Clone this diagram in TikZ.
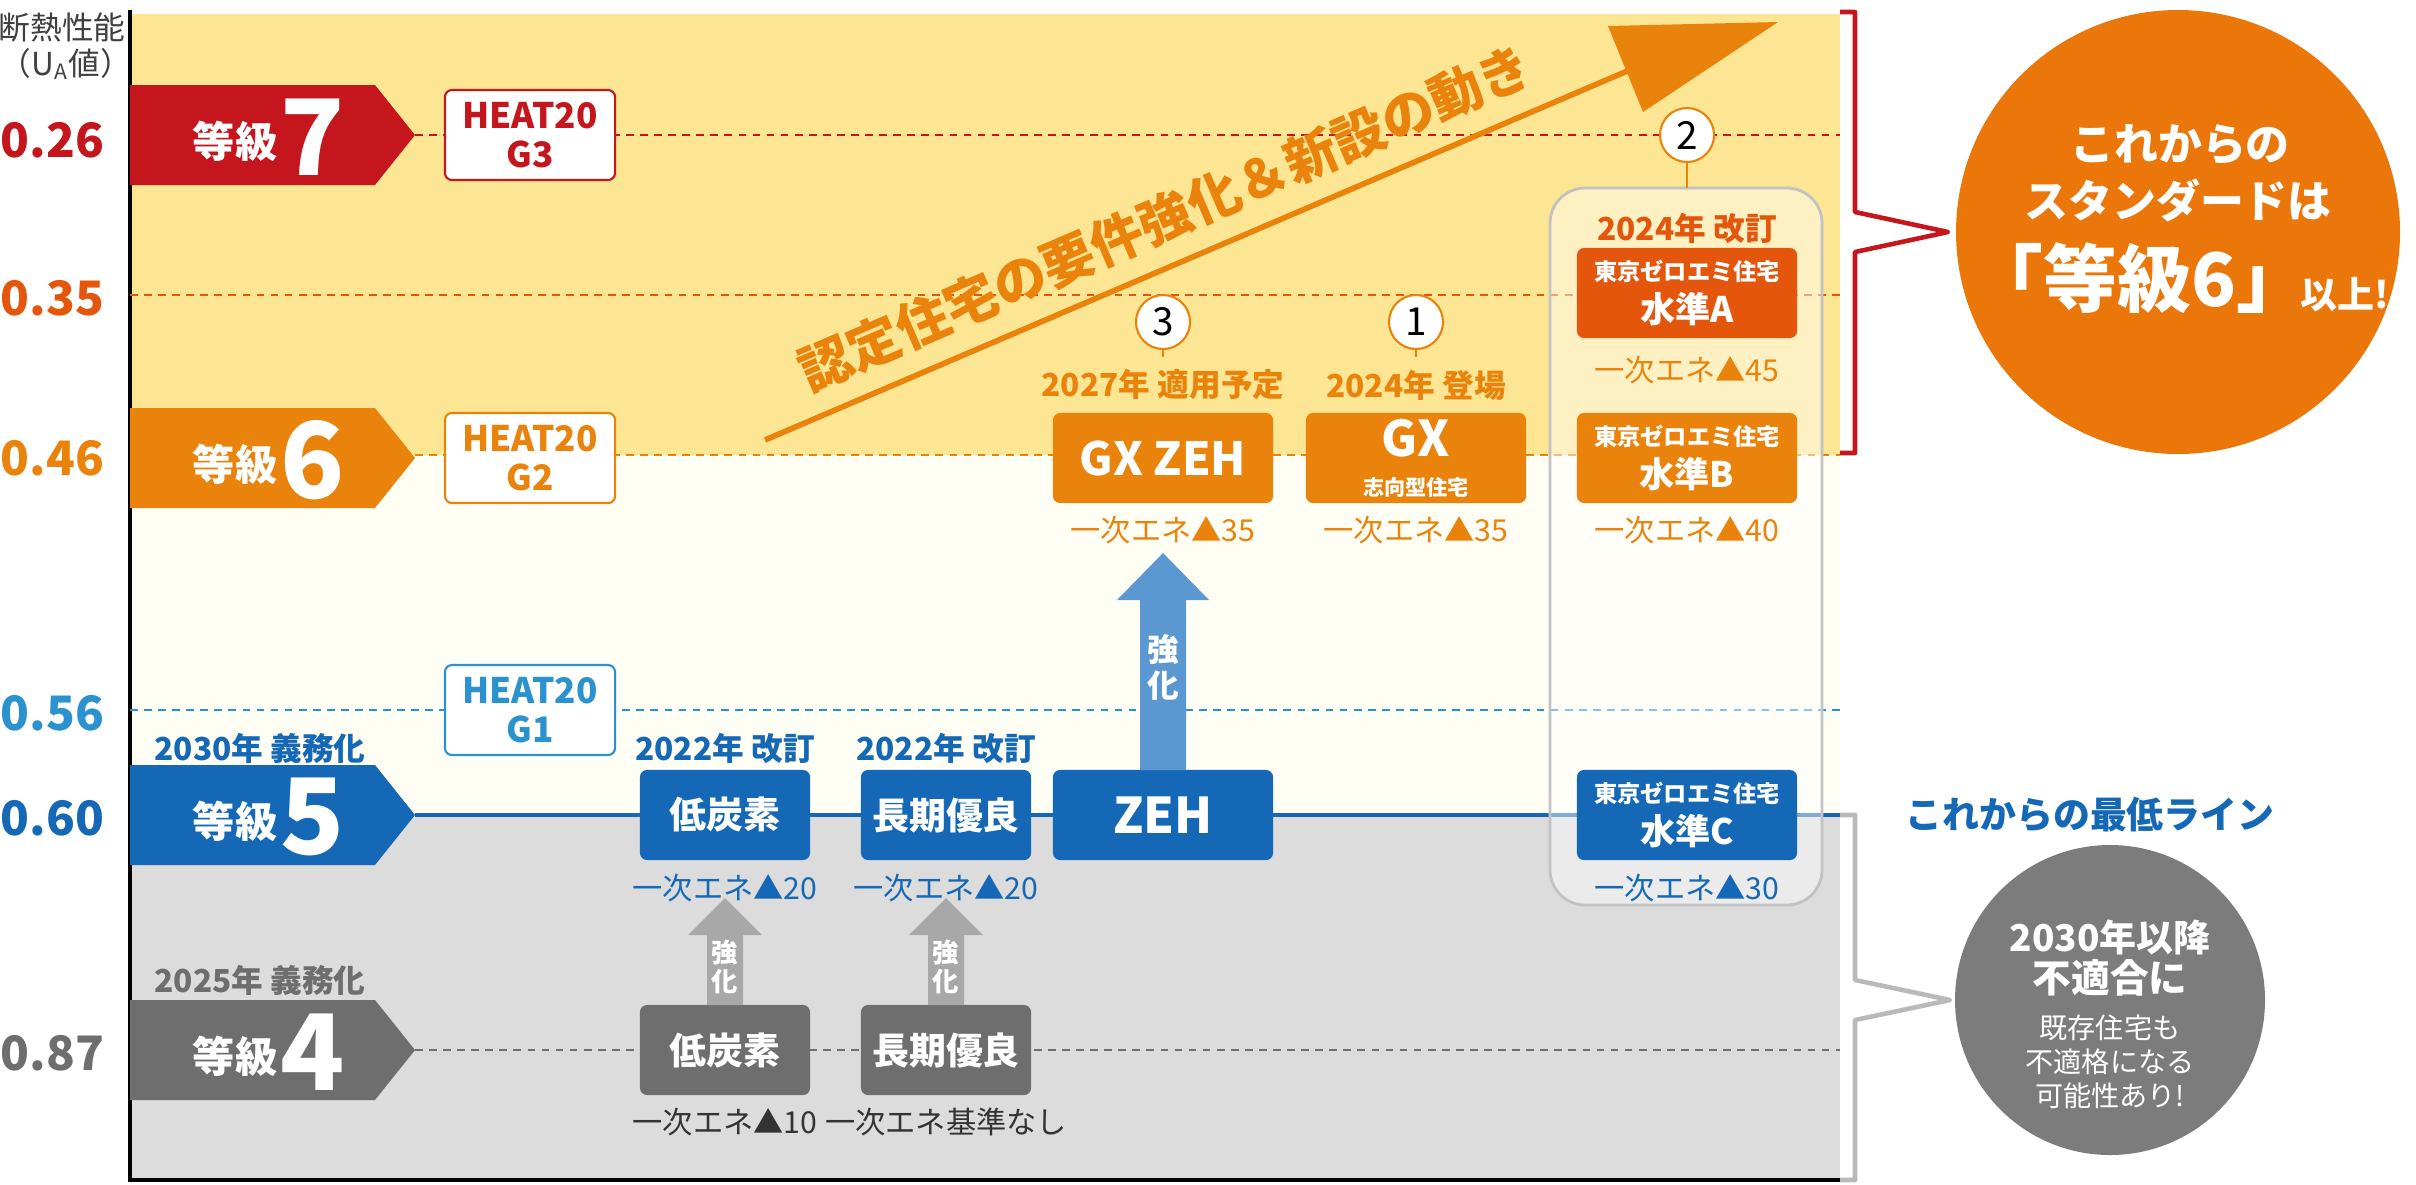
\documentclass[tikz,border=0pt]{standalone}
\usepackage{fontspec}
\setmainfont{Noto Sans CJK JP}
\usetikzlibrary{arrows.meta}
\definecolor{cred}{HTML}{C4161C}
\definecolor{corg}{HTML}{EA830B}
\definecolor{cdorg}{HTML}{E5560D}
\definecolor{cblue}{HTML}{1468B6}
\definecolor{clblue}{HTML}{2A93CF}
\definecolor{cablue}{HTML}{5B98D1}
\definecolor{cgray}{HTML}{6E6E6E}
\definecolor{cagray}{HTML}{A8A8A8}
\definecolor{cyel}{HTML}{FCE593}
\definecolor{cbg}{HTML}{DCDCDC}
\definecolor{cbig}{HTML}{EB760A}
\tikzset{
  fs/.style={font=\fontsize{#1}{#1}\selectfont\bfseries},
  fr/.style={font=\fontsize{#1}{#1}\selectfont},
  dline/.style={line width=0.6pt, dash pattern=on 2.2pt off 1.8pt},
  box/.style={rounded corners=2pt, minimum width=2.2cm, minimum height=0.9cm, text=white, align=center, inner sep=0pt},
  hbox/.style={draw, line width=0.6pt, fill=white, rounded corners=2pt, minimum width=1.7cm, minimum height=0.9cm, align=center, inner sep=0pt, font=\fontsize{10}{11}\selectfont\bfseries},
  num/.style={circle, draw=corg, fill=white, line width=0.6pt, minimum size=0.54cm, inner sep=0pt, font=\fontsize{11}{11}\selectfont},
  lab/.style={fs=9},
  ene/.style={fr=8.6},
}
\begin{document}
\begin{tikzpicture}[x=0.01cm,y=-0.01cm]
\useasboundingbox (0,0) rectangle (2416,1184);
% backgrounds
\fill[cyel] (130,14) rectangle (1840,455);
\fill[white!96!yellow] (130,455) rectangle (1840,815);
\fill[cbg] (130,815) rectangle (1840,1180);
\draw[line width=1pt] (130,10) -- (130,1180) -- (1840,1180);
% axis title
\node[fr=9, text=black!75] (t1) at (62,28) {断熱性能};
\node[fr=9, text=black!75] (t2) at (66,64) {（U\textsubscript{A}値）};
% value labels
\node[fs=13.5, text=cred, anchor=west, inner sep=0pt] (v1) at (0,140) {0.26};
\node[fs=13.5, text=cdorg, anchor=west, inner sep=0pt] (v2) at (0,298) {0.35};
\node[fs=13.5, text=corg, anchor=west, inner sep=0pt] (v3) at (0,458) {0.46};
\node[fs=13.5, text=clblue, anchor=west, inner sep=0pt] (v4) at (0,713) {0.56};
\node[fs=13.5, text=cblue, anchor=west, inner sep=0pt] (v5) at (0,818) {0.60};
\node[fs=13.5, text=cgray, anchor=west, inner sep=0pt] (v6) at (0,1053) {0.87};
% horizontal lines
\draw[dline, cred] (415,135) -- (1840,135);
\draw[dline, cdorg] (130,295) -- (1840,295);
\draw[dline, corg] (415,455) -- (1840,455);
\draw[dline, clblue] (130,710) -- (1840,710);
\draw[line width=1.2pt, cblue] (415,815) -- (1840,815);
\draw[dline, cgray] (415,1050) -- (1840,1050);
% grade pentagons
\foreach \c/\col/\n/\nm in {135/cred/7/g7, 458/corg/6/g6, 815/cblue/5/g5, 1050/cgray/4/g4}{
  \fill[\col] (130,\c-50) -- (375,\c-50) -- (415,\c) -- (375,\c+50) -- (130,\c+50) -- cycle;
  \node[fs=12, text=white, anchor=east, inner sep=0pt] (\nm a) at (278,\c+6) {等級};
  \node[fs=30, text=white, anchor=west, inner sep=0pt] (\nm b) at (280,\c+2) {\n};
}
\node[lab, text=cblue] (d30) at (260,748) {2030年 義務化};
\node[lab, text=cgray] (d25) at (260,980) {2025年 義務化};
% HEAT20
\node[hbox, draw=cred, text=cred] (h3) at (530,135) {HEAT20\\G3};
\node[hbox, draw=corg, text=corg] (h2) at (530,458) {HEAT20\\G2};
\node[hbox, draw=clblue, text=clblue] (h1) at (530,710) {HEAT20\\G1};
% diagonal arrow
\coordinate (ds) at (765,440);
\coordinate (de) at (1632,69);
\draw[line width=1.6pt, corg] (ds) -- (de);
\fill[corg] (1778,22) -- (1608,26) -- (1643,112) -- cycle;
\node[fs=15, text=corg, rotate=23.2] (dtxt) at (1165,218) {認定住宅の要件強化＆新設の動き};
% panel
\draw[draw=cagray!70, fill=white, fill opacity=0.45, rounded corners=10pt, line width=0.8pt] (1550,188) rectangle (1822,905);
% blue row boxes
\node[box, fill=cblue, minimum width=1.7cm, fs=10.5] (lc5) at (725,815) {低炭素};
\node[box, fill=cblue, minimum width=1.7cm, fs=10.5] (lq5) at (946,815) {長期優良};
\node[box, fill=cblue, fs=14] (zeh) at (1163,815) {ZEH};
\node[box, fill=cblue] (zc) at (1687,815) {{\fontsize{6.6}{8}\selectfont\bfseries 東京ゼロエミ住宅}\\[0pt]{\fontsize{10}{11}\selectfont\bfseries 水準C}};
\node[lab, text=cblue] (r1) at (725,748) {2022年 改訂};
\node[lab, text=cblue] (r2) at (946,748) {2022年 改訂};
\node[ene, text=cblue] (e1) at (725,888) {一次エネ▲20};
\node[ene, text=cblue] (e2) at (946,888) {一次エネ▲20};
\node[ene, text=cblue] (e3) at (1687,888) {一次エネ▲30};
% gray boxes
\node[box, fill=cgray, minimum width=1.7cm, fs=10.5] (lc4) at (725,1050) {低炭素};
\node[box, fill=cgray, minimum width=1.7cm, fs=10.5] (lq4) at (946,1050) {長期優良};
\node[ene, text=black!80] (e4) at (725,1122) {一次エネ▲10};
\node[ene, text=black!80] (e5) at (946,1122) {一次エネ基準なし};
% gray arrows
\foreach \x/\a/\b in {725/lc4/lc5, 946/lq4/lq5}{
  \fill[cagray] (\x-18,1005) -- (\x-18,935) -- (\x-37,935) -- (\x,898) -- (\x+37,935) -- (\x+18,935) -- (\x+18,1005) -- cycle;
  \node[fs=7.5, text=white] at (\x,952) {強};
  \node[fs=7.5, text=white] at (\x,982) {化};
}
% blue arrow
\fill[cablue] (1140,770) -- (1140,600) -- (1117,600) -- (1163,553) -- (1209,600) -- (1186,600) -- (1186,770) -- cycle;
\node[fs=9, text=white] (k1) at (1163,650) {強};
\node[fs=9, text=white] (k2) at (1163,686) {化};
% orange boxes
\node[box, fill=corg, fs=13] (gxz) at (1163,458) {GX ZEH};
\node[box, fill=corg] (gx) at (1416,458) {{\fontsize{14}{14}\selectfont\bfseries GX}\\[-1pt]{\fontsize{6}{6}\selectfont\bfseries 志向型住宅}};
\node[box, fill=corg] (zb) at (1687,458) {{\fontsize{6.6}{8}\selectfont\bfseries 東京ゼロエミ住宅}\\[0pt]{\fontsize{10}{11}\selectfont\bfseries 水準B}};
\node[box, fill=cdorg] (za) at (1687,293) {{\fontsize{6.6}{8}\selectfont\bfseries 東京ゼロエミ住宅}\\[0pt]{\fontsize{10}{11}\selectfont\bfseries 水準A}};
\node[ene, text=corg] (e6) at (1163,530) {一次エネ▲35};
\node[ene, text=corg] (e7) at (1416,530) {一次エネ▲35};
\node[ene, text=corg] (e8) at (1687,530) {一次エネ▲40};
\node[ene, text=corg] (e9) at (1687,370) {一次エネ▲45};
\node[lab, text=corg] (y1) at (1163,385) {2027年 適用予定};
\node[lab, text=corg] (y2) at (1416,385) {2024年 登場};
\node[lab, text=cdorg] (y3) at (1687,228) {2024年 改訂};
\node[num] (n3) at (1163,322) {3};
\node[num] (n1) at (1416,322) {1};
\node[num] (n2) at (1687,135) {2};
\draw[corg, line width=0.5pt] (n3.south) -- (y1.north);
\draw[corg, line width=0.5pt] (n1.south) -- (y2.north);
\draw[corg, line width=0.5pt] (n2.south) -- (1687,188);
% brackets
\draw[cred, line width=1.3pt, line join=round] (1840,12) -- (1855,12) -- (1855,212) -- (1948,232) -- (1855,252) -- (1855,453) -- (1840,453);
\draw[cagray!80, line width=1.3pt, line join=round] (1840,815) -- (1855,815) -- (1855,980) -- (1950,1000) -- (1855,1020) -- (1855,1180) -- (1840,1180);
% big circles
\fill[cbig] (2178,232) circle (222);
\node[fs=12.5, text=white] (c1) at (2180,145) {これからの};
\node[fs=12.5, text=white] (c2) at (2178,200) {スタンダードは};
\node[fs=21, text=white] (c3) at (2140,278) {「等級6」};
\node[fs=10.5, text=white] (c4) at (2345,295) {以上!};
\fill[cgray!90] (2110,1000) circle (155);
\node[fs=10.5, text=white] (g1) at (2110,937) {2030年以降};
\node[fs=11, text=white] (g2) at (2110,978) {不適合に};
\node[fr=8, text=white] (g3) at (2110,1028) {既存住宅も};
\node[fr=8, text=white] (g4) at (2110,1062) {不適格になる};
\node[fr=8, text=white] (g5) at (2110,1096) {可能性あり!};
\node[fs=10.5, text=cblue] (ml) at (2090,815) {これからの最低ライン};
\end{tikzpicture}
\end{document}
